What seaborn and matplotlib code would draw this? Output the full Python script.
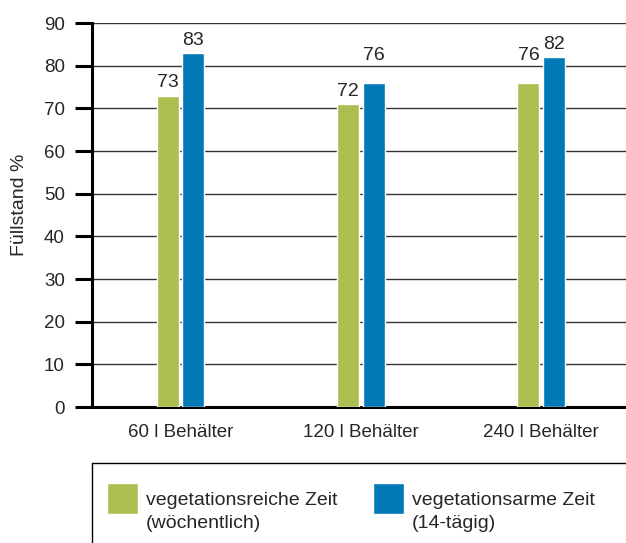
import matplotlib
matplotlib.use("Agg")
import matplotlib.pyplot as plt
import seaborn as sns
import pandas as pd
import numpy as np
from matplotlib.lines import Line2D
from matplotlib.patches import Rectangle
from matplotlib.legend_handler import HandlerPatch

categories = ["60 l Behälter", "120 l Behälter", "240 l Behälter"]
series = ["vegetationsreiche Zeit\n(wöchentlich)", "vegetationsarme Zeit\n(14-tägig)"]
reich_values = [73, 71, 76]
arm_values = [83, 76, 82]
reich_labels = ["73", "72", "76"]
arm_labels = ["83", "76", "82"]
yticks = [0, 10, 20, 30, 40, 50, 60, 70, 80, 90]
colors = ["#acbe50", "#0079b6"]

df = pd.DataFrame({
    "Behälter": categories * 2,
    "Serie": [series[0]] * 3 + [series[1]] * 3,
    "Füllstand": reich_values + arm_values,
})

sns.set_style("white")
plt.rcParams["font.family"] = ["Liberation Sans", "DejaVu Sans"]
fs = 13.5
fs_leg = 14

fig = plt.figure(figsize=(6.26, 5.43), dpi=100)
ax = fig.add_axes([92 / 626, (543 - 407) / 543, 1 - 92 / 626, (407 - 23) / 543])

sns.barplot(data=df, x="Behälter", y="Füllstand", hue="Serie", order=categories,
            hue_order=series, palette=colors, width=0.283, gap=0.14,
            saturation=1, ax=ax, zorder=3)

ax.set_ylim(0, 90)
ax.set_xlim(-0.49, 2.47)
ax.set_yticks(yticks)
ax.yaxis.grid(True, color="#333333", linewidth=1.0, zorder=0)
ax.xaxis.grid(False)
ax.set_axisbelow(True)
for s in ["top", "right"]:
    ax.spines[s].set_visible(False)
for s in ["left", "bottom"]:
    ax.spines[s].set_linewidth(2.2)
    ax.spines[s].set_color("black")
ax.tick_params(axis="y", length=12, width=2.2, color="black", pad=7.5,
               labelsize=fs, left=True)
ax.tick_params(axis="x", length=0, pad=12, labelsize=fs)
ax.set_xlabel("")
ax.set_ylabel("Füllstand %", fontsize=fs_leg)
ax.yaxis.set_label_coords(-0.12, 0.527)

# value labels above bars, lifted above a gridline if they would cross it
for cont, labels in zip(ax.containers, [reich_labels, arm_labels]):
    for bar, lab in zip(cont, labels):
        v = bar.get_height()
        base = v + 1.0
        if np.floor((base + 3.4) / 10) > np.floor(base / 10):
            base = np.ceil(base / 10) * 10 + 0.3
        ax.text(bar.get_x() + bar.get_width() / 2, base, lab, ha="center",
                va="bottom", fontsize=fs_leg, zorder=4)

# legend
handles, labels = ax.get_legend_handles_labels()
ax.get_legend().remove()

def top_patch(legend, orig_handle, xdescent, ydescent, width, height, fontsize):
    return Rectangle((-xdescent, -ydescent + 14 * 0.72), width, height)

leg = fig.legend(handles, labels, loc="upper left",
                 bbox_to_anchor=(107 / 626, (543 - 492) / 543),
                 ncol=2, frameon=False, fontsize=fs_leg, handlelength=1.6,
                 handleheight=2.07, handletextpad=0.39, columnspacing=1.84,
                 borderpad=0, borderaxespad=0,
                 handler_map={Rectangle: HandlerPatch(patch_func=top_patch)})
for t in leg.get_texts():
    t.set_linespacing(1.5)

# legend box (left and top edges visible; the rest runs off the figure)
y_top = (543 - 463) / 543
x_left = 92 / 626
fig.add_artist(Line2D([x_left, 1.0], [y_top, y_top], transform=fig.transFigure,
                      color="black", linewidth=1.0))
fig.add_artist(Line2D([x_left, x_left], [0, y_top], transform=fig.transFigure,
                      color="black", linewidth=1.0))

fig.savefig("out.png", dpi=100)
